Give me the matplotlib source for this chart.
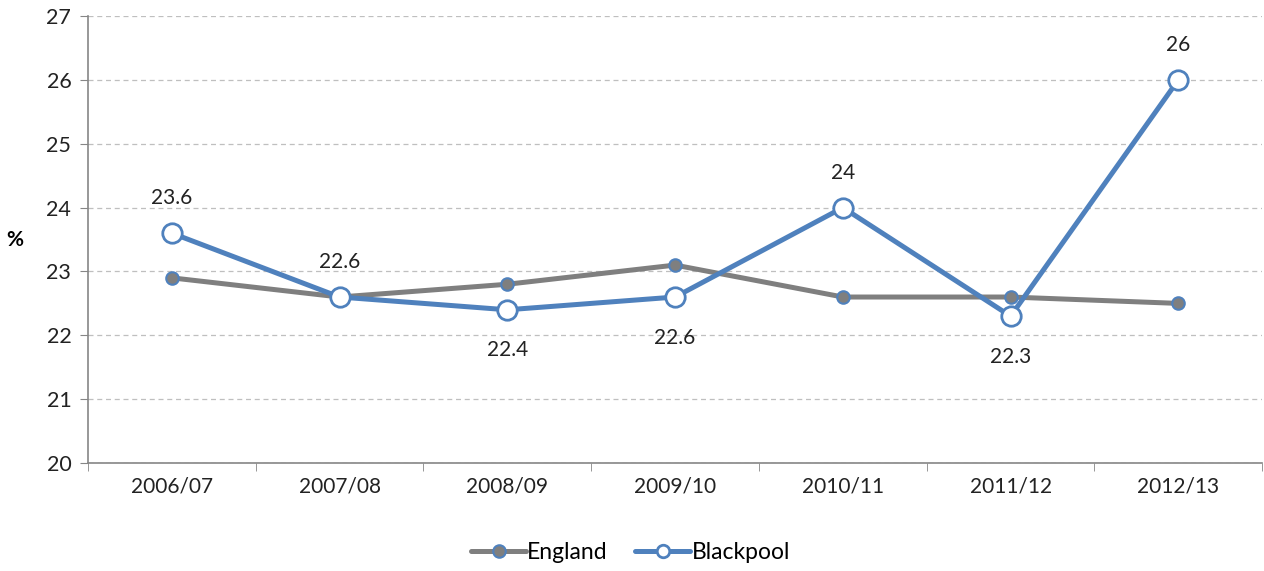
import matplotlib.pyplot as plt
import numpy as np

years = ['2006/07', '2007/08', '2008/09', '2009/10', '2010/11', '2011/12', '2012/13']
england = [22.9, 22.6, 22.8, 23.1, 22.6, 22.6, 22.5]
blackpool = [23.6, 22.6, 22.4, 22.6, 24.0, 22.3, 26.0]
label_below = [False, False, True, True, False, True, False]

plt.rcParams['font.family'] = ['Lato', 'DejaVu Sans']

blue = '#4F81BD'
grey = '#7F7F7F'
txtc = '#222222'
fs = 15

fig = plt.figure(figsize=(12.64, 5.71), dpi=100)
ax = fig.add_axes([0.0696, 0.189, 0.929, 0.783])

x = np.arange(len(years))
ax.plot(x, england, color=grey, lw=3.6, marker='o', ms=9,
        markerfacecolor=grey, markeredgecolor=blue, markeredgewidth=1.5,
        label='England', zorder=3, solid_capstyle='round')
ax.plot(x, blackpool, color=blue, lw=3.6, marker='o', ms=14,
        markerfacecolor='white', markeredgecolor=blue, markeredgewidth=2,
        label='Blackpool', zorder=4, solid_capstyle='round')

for xi, v, below in zip(x, blackpool, label_below):
    txt = f'{v:g}'
    if below:
        ax.annotate(txt, (xi, v), xytext=(0, -22), textcoords='offset points',
                    ha='center', va='top', fontsize=fs, color=txtc)
    else:
        ax.annotate(txt, (xi, v), xytext=(0, 18), textcoords='offset points',
                    ha='center', va='bottom', fontsize=fs, color=txtc)

ax.set_xlim(-0.5, len(years) - 0.5)
ax.set_ylim(20, 27)
ax.set_yticks(range(20, 28))
ax.set_xticks(x)
ax.set_xticklabels(years, fontsize=fs, color=txtc)
ax.set_xticks(np.arange(-0.5, len(years), 1), minor=True)
ax.tick_params(axis='x', which='major', length=0, pad=10)
ax.tick_params(axis='x', which='minor', length=6, color='#868686')
ax.tick_params(axis='y', length=6, color='#868686', labelsize=15.5, labelcolor=txtc, pad=6)

ax.grid(axis='y', color='#BFBFBF', ls=(0, (4, 3)), lw=0.9)
ax.set_axisbelow(True)
for s in ['top', 'right']:
    ax.spines[s].set_visible(False)
for s in ['left', 'bottom']:
    ax.spines[s].set_color('#868686')
    ax.spines[s].set_linewidth(1.2)

ax.set_ylabel('%', rotation=0, fontsize=fs, fontweight='bold', va='center')
ax.yaxis.set_label_coords(-0.062, 0.5)

leg = ax.legend(loc='upper center', bbox_to_anchor=(0.462, -0.13), ncol=2, frameon=False,
                fontsize=16.5, handlelength=2.4, columnspacing=1.2, handletextpad=0.05)
for h in leg.legend_handles:
    h.set_markersize(9)

fig.savefig('out.png', dpi=100)
